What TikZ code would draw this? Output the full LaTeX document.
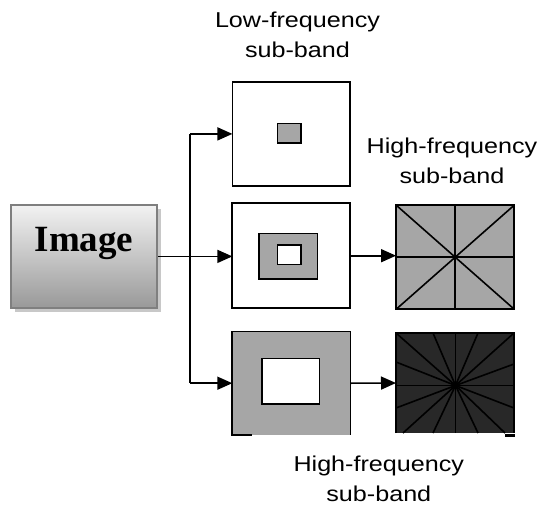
\documentclass[tikz,border=0pt]{standalone}
\usepackage{fontspec}
\usetikzlibrary{arrows.meta,calc}
\newfontfamily\labfont[FakeStretch=1.17]{Liberation Sans}
\newfontfamily\imgfont{Liberation Serif}
\definecolor{midgray}{HTML}{A6A6A6}
\definecolor{darkfill}{HTML}{282828}
\definecolor{imgborder}{HTML}{7F7F7F}
\definecolor{imgtop}{HTML}{F2F2F2}
\definecolor{imgbot}{HTML}{999999}
\definecolor{shadowgray}{HTML}{C8C8C8}
\begin{document}
\begin{tikzpicture}[x=1pt,y=-1pt,
  box/.style={draw=black,line width=1.8pt,minimum width=#1,inner sep=0pt,outer sep=0pt},
  arr/.style={line width=1.6pt,-{Triangle[length=15pt,width=13pt]}},
  conn/.style={line width=1.6pt},
  ray/.style={line width=1.6pt},
  lab/.style={font=\labfont\fontsize{21.5}{30}\selectfont,align=center,inner sep=0pt}]
\useasboundingbox (0,0) rectangle (544,509);
% Image box
\fill[shadowgray] (15,209) rectangle (161,311.7);
\node[draw=imgborder,line width=2.2pt,top color=imgtop,bottom color=imgbot,
  minimum width=146.3pt,minimum height=102.7pt,inner sep=0pt] (img) at (84.2,256.4) {};
\node[font=\imgfont\bfseries\fontsize{37}{40}\selectfont,anchor=base,inner sep=0pt] (imgtxt) at (84,251.7) {Image};
% boxes
\node[box=117.2pt,minimum height=104.3pt] (top) at (291,133.9) {};
\node[box=23.4pt,minimum height=19.4pt,fill=midgray,line width=1.6pt] (topin) at (289,133) {};
\node[box=117.7pt,minimum height=104.7pt] (mid) at (291.2,255.7) {};
\node[box=58.3pt,minimum height=45.4pt,fill=midgray,line width=1.6pt] (midg) at (288.2,256) {};
\node[box=23.4pt,minimum height=19.3pt,fill=white,line width=1.6pt] (midw) at (289,254.7) {};
\node[fill=midgray,minimum width=118.2pt,minimum height=103.5pt,inner sep=0pt,outer sep=0pt] (bot) at (291.4,383.2) {};
\draw[line width=1.8pt] (bot.south east) -- (bot.north east) -- (bot.north west) -- (bot.south west) -- ++(19.4,0);
\node[box=57.6pt,minimum height=45.7pt,fill=white,line width=1.6pt] (botw) at (290.5,381.2) {};
% high-frequency boxes
\node[box=118.3pt,minimum height=104.3pt,fill=midgray] (hf1) at (455.2,257.2) {};
\draw[ray] (hf1.north west) -- (hf1.south east);
\draw[ray] (hf1.north east) -- (hf1.south west);
\draw[ray] (hf1.north) -- (hf1.south);
\draw[ray] (hf1.west) -- (hf1.east);
\node[fill=darkfill,minimum width=118pt,minimum height=100pt,inner sep=0pt,outer sep=0pt] (hf2) at (455,383) {};
\coordinate (hub) at (455.5,385.5);
\foreach \p in {(396,333),(433,333),(455.5,333),(478,333),(514,333),
                (514,364),(514,385.5),(514,408),
                (505,433),(478,433),(455.5,433),(433,433),(403,433),
                (396,408),(396,385.5),(396,362)}
  \draw[ray] (hub) -- \p;
\draw[line width=1.8pt] (hf2.south west) -- (hf2.north west) -- (hf2.north east) -- (hf2.south east);
\draw[line width=3.5pt] (505,435.5) -- (515,435.5);
% connectors
\coordinate (split) at (190,256.4);
\draw[conn] (split |- top.west) -- (split |- bot.west);
\draw[arr] (img.east) -- (img.east -| mid.west);
\draw[arr] (split |- top.west) -- (top.west);
\draw[arr] (split |- bot.west) -- (bot.west);
\draw[arr] (mid.east) -- (mid.east -| hf1.west);
\draw[arr] (bot.east) -- (hf2.west);
% labels
\node[lab,anchor=base] (lowlab) at (297.5,57) {Low-frequency\\sub-band};
\node[lab,anchor=base] (hflab1) at (452,183.3) {High-frequency\\sub-band};
\node[lab,anchor=base] (hflab2) at (378.8,501.7) {High-frequency\\sub-band};
\end{tikzpicture}
\end{document}
